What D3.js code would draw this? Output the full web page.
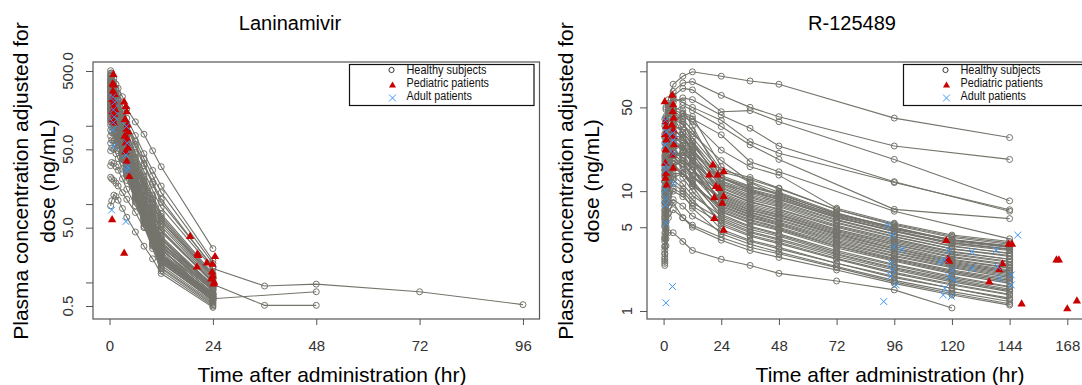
<!DOCTYPE html>
<html>
<head>
<meta charset="utf-8">
<script src="https://cdn.jsdelivr.net/npm/d3@7"></script>
<style>
  body { margin: 0; background: #fff; }
  svg { display: block; font-family: "Liberation Sans", Arial, Helvetica, sans-serif; }
</style>
</head>
<body>
<svg id="chart" width="1082" height="385"></svg>
<script>
// ---------------- Laninamivir (left panel) ----------------
const lanTimes = [0.25, 0.5, 1, 1.5, 2, 3, 4, 6, 8, 10, 12, 24, 36, 48, 72, 96];
const lanXTicks = [0, 24, 48, 72, 96];
const lanYTicks = [0.5, 1, 5, 10, 50, 100, 500];
const lanYLabels = [0.5, 5, 50, 500];

// healthy subjects: one row per subject, aligned with lanTimes (null = not sampled)
const lanHealthy = [
  [505, 470, 400, 340, 300, 235, 165, 112, 78, 48, 30, 2.7],
  [430, 445, 360, 300, 255, 180, 125, 75, 44, 27, 17, 1.9],
  [470, 410, 330, 260, 215, 150, 100, 58, 33, 19, 11.5, 1.55],
  [390, 380, 310, 245, 195, 128, 86, 45, 26, 15, 9.0, 1.5, 0.9, 0.95, 0.76, 0.52],
  [360, 340, 285, 230, 185, 118, 74, 40, 21, 12, 7.0, 1.25],
  [330, 315, 255, 205, 165, 104, 66, 34, 19, 10.5, 6.0, 1.15],
  [300, 295, 240, 188, 150, 96, 60, 31, 16.5, 9.0, 5.2, 1.05],
  [285, 268, 226, 176, 138, 88, 56, 28, 15, 8.0, 4.6, 0.98],
  [345, 280, 205, 160, 128, 82, 50, 24, 12.5, 6.6, 3.6, 0.88],
  [250, 262, 215, 172, 134, 84, 52, 26, 13.5, 7.2, 3.9, 0.92],
  [238, 232, 188, 150, 118, 74, 46, 22, 11.2, 6.0, 3.3, 0.84],
  [275, 240, 176, 136, 106, 66, 41, 20, 10, 5.3, 2.9, 0.78],
  [215, 222, 180, 141, 112, 70, 43, 21, 10.6, 5.7, 3.1, 0.95, 0.51, 0.51],
  [228, 205, 162, 125, 98, 61, 38, 18, 9.0, 4.8, 2.6, 0.74],
  [196, 205, 170, 132, 104, 65, 40, 19.5, 9.8, 5.1, 2.75, 0.62, null, 0.76],
  [205, 190, 150, 118, 92, 57, 35, 16.5, 8.2, 4.3, 2.3, 0.7],
  [182, 178, 148, 114, 88, 54, 33, 15.5, 7.7, 4.0, 2.15, 0.67],
  [168, 172, 138, 106, 83, 51, 31, 14.2, 7.0, 3.6, 1.95, 0.64],
  [190, 160, 126, 98, 76, 47, 29, 13.5, 6.6, 3.4, 1.8, 0.6],
  [150, 158, 130, 101, 79, 48, 29.5, 13.8, 6.8, 3.5, 1.85, 0.58],
  [142, 146, 118, 92, 71, 44, 27, 12.5, 6.1, 3.1, 1.65, 0.56],
  [128, 135, 112, 88, 68, 42, 26, 12, 5.8, 3.0, 1.55, 0.54],
  [118, 122, 104, 82, 64, 40, 25, 11.5, 5.6, 2.9, 1.5, 0.52],
  [160, 130, 98, 76, 60, 37, 23, 10.6, 5.2, 2.7, 1.4, 0.5],
  [102, 110, 96, 78, 62, 39, 24.5, 11.8, 6.0, 3.2, 1.75, 0.6],
  [88, 96, 90, 74, 60, 38, 24, 12.5, 6.6, 3.6, 2.0, 0.66],
  [74, 82, 80, 68, 56, 37, 24, 13, 7.2, 4.0, 2.3, 0.72],
  [60, 66, 64, 56, 48, 34, 23, 13.5, 7.8, 4.5, 2.6, 0.8],
  [48, 52, 50, 44, 38, 28, 20, 12, 7.5, 4.6, 2.8, 0.85],
  [31, 34, 33, 30, 27, 21, 15.5, 9.5, 6.4, 3.8, 2.2, 0.7],
  [22, 21, 20, 18.5, 17, 14, 11.5, 7.8, 5.0, 3.2, 2.0, 0.64],
  [9.5, 11, 13, 12.5, 11.2, 8.8, 6.8, 4.4, 2.9, 2.0, 1.3, 0.48],
  [400, 365, 295, 240, 190, 125, 82, 43, 23, 13, 7.5, 1.3],
  [265, 250, 200, 150, 114, 70, 44, 21.5, 10.8, 5.6, 3.0, 0.82],
  [320, 300, 230, 180, 142, 90, 57, 30, 17.5, 10, 6.2, 1.2],
  [180, 195, 165, 128, 102, 66, 43, 23, 13, 7.6, 4.4, 1.0],
  [355, 330, 262, 212, 170, 110, 70, 37, 20, 11.5, 6.6, 1.2],
  [312, 288, 232, 182, 146, 93, 58, 29, 15.5, 8.4, 4.7, 1.02],
  [296, 300, 248, 196, 158, 100, 64, 33, 18, 9.8, 5.6, 1.1],
  [272, 258, 210, 166, 130, 82, 51, 25, 12.8, 6.8, 3.7, 0.9],
  [246, 236, 194, 154, 122, 78, 49, 24, 12.2, 6.5, 3.5, 0.86],
  [222, 228, 186, 146, 115, 72, 45, 22, 11.0, 5.9, 3.2, 0.8],
  [210, 200, 168, 130, 101, 63, 39, 18.5, 9.3, 4.9, 2.65, 0.73],
  [188, 186, 152, 119, 93, 58, 36, 17, 8.6, 4.5, 2.45, 0.69],
  [176, 168, 136, 104, 81, 50, 31, 14.8, 7.4, 3.9, 2.1, 0.66],
  [164, 154, 124, 96, 75, 46, 28.5, 13.5, 6.8, 3.6, 1.9, 0.62],
  [156, 150, 122, 95, 74, 46, 29, 14.5, 7.6, 4.1, 2.25, 0.7],
  [136, 140, 116, 91, 71, 45, 28, 13.8, 7.0, 3.8, 2.1, 0.66],
  [124, 128, 108, 86, 67, 43, 27, 13.2, 6.8, 3.7, 2.05, 0.63],
  [112, 116, 100, 80, 63, 40, 25.5, 12.4, 6.4, 3.5, 1.95, 0.6],
  [380, 350, 300, 250, 205, 140, 96, 54, 31, 18, 10.5, 1.6],
  [440, 400, 320, 265, 220, 155, 108, 64, 38, 23, 14, 1.75]
];

// patients: [time (hr), concentration]
const lanPediatric = [
  [0.9, 450], [0.7, 340], [1.0, 330], [0.8, 275], [1.2, 250], [0.6, 215], [1.0, 200],
  [0.9, 180], [1.3, 160], [0.7, 150], [1.1, 140], [0.8, 120], [1.0, 108], [0.6, 6.3],
  [3.4, 200], [3.8, 175], [4.0, 150], [3.6, 120], [4.2, 102], [3.9, 90], [4.4, 83],
  [3.5, 73], [4.1, 68], [3.8, 60], [4.3, 52], [3.7, 46.5], [4.0, 35], [4.6, 22.5], [3.4, 2.35],
  [18.7, 3.85], [20.4, 2.3], [20.6, 2.2], [20.3, 1.57], [22.6, 1.77], [23.6, 1.1],
  [23.9, 1.7], [24.0, 1.2], [24.3, 1.0], [24.5, 2.13], [23.8, 1.35], [24.2, 0.95]
];
const lanAdult = [
  [0.7, 233], [0.9, 160], [1.1, 130], [0.8, 89], [1.0, 54.6], [0.5, 8.4], [1.2, 200], [0.9, 110],
  [3.9, 98], [4.1, 60], [3.8, 42.5], [4.2, 30], [4.0, 27], [3.8, 6.0]
];

// ---------------- R-125489 (right panel) ----------------
const rTimes = [0.5, 1, 2, 4, 8, 12, 24, 36, 48, 72, 96, 120, 144];
const rXTicks = [0, 24, 48, 72, 96, 120, 144, 168];
const rYTicks = [1, 5, 10, 50, 100];
const rYLabels = [1, 5, 10, 50];

const rHealthy = [
  [30, 42, 58, 78, 91, 99, 91, 83, 78, null, 40.7, null, 28],
  [22, 35, 50, 68, 80, 82, 63, 50, 41.8, null, 23.8, null, 18.4],
  [18, 28, 45, 62, 72, 70, 46, 47, 38, null, 18.4, null, 8.3],
  [15, 26, 40, 55, 60, 58, 43, 33.5, 23.8, null, 12, null, 6.8],
  [25, 38, 52, 60, 55, 50, 39, 25.9, 20.7, null, 11.8, null, 7.0],
  [12, 20, 32, 46, 52, 47, 34.6, 24.3, 18.4, null, 7.05, null, 5.9],
  [20, 30, 42, 48, 44, 40, 29.5, 17.6, 14.5, null, 6.8, null, 4.0],
  [10, 18, 28, 40, 42, 38, 22, 16, 13.6, 7.2, 5.4, 4.3, 3.8],
  [14, 24, 34, 40, 36, 28, 14.5, 12.5, 10.5, 7.0, 5.2, 4.1, 3.6],
  [8, 15, 26, 35, 33, 26, 13.5, 11, 9.6, 6.4, 5.0, 3.8, 3.4],
  [16, 28, 38, 42, 30, 22, 12.8, 10.2, 8.8, 6.1, 4.6, 3.6, 3.2],
  [6.5, 12, 20, 30, 31, 25, 12, 9.6, 8.2, 5.8, 4.4, 3.5, 3.0],
  [11, 20, 30, 34, 27, 20, 11.2, 9.0, 7.8, 5.5, 4.2, 3.3, 2.85],
  [5, 9, 16, 26, 28, 23, 10.6, 8.5, 7.4, 5.2, 4.0, 3.15, 2.7],
  [13, 22, 29, 31, 24, 18, 10, 8.1, 7.0, 5.0, 3.8, 3.0, 2.6],
  [9, 16, 24, 28, 25, 19, 9.4, 7.6, 6.6, 4.7, 3.6, 2.85, 2.45],
  [4, 7.5, 14, 22, 24, 21, 9.0, 7.2, 6.3, 4.5, 3.45, 2.7, 2.3],
  [17, 26, 30, 27, 21, 15, 8.6, 6.9, 6.0, 4.3, 3.3, 2.6, 2.2],
  [7, 13, 21, 25, 22, 17, 8.2, 6.6, 5.7, 4.1, 3.15, 2.5, 2.1],
  [3.2, 6, 12, 19, 21, 18, 7.8, 6.3, 5.4, 3.9, 3.0, 2.4, 2.0],
  [10, 17, 23, 23, 18, 13.5, 7.4, 6.0, 5.2, 3.7, 2.85, 2.3, 1.9],
  [6, 11, 18, 21, 19, 15, 7.0, 5.7, 4.9, 3.5, 2.7, 2.15, 1.8],
  [2.4, 4.5, 9, 16, 18, 16, 6.7, 5.4, 4.7, 3.35, 2.6, 2.05, 1.7],
  [12, 19, 22, 20, 15, 11.5, 6.4, 5.1, 4.4, 3.2, 2.45, 1.95, 1.6],
  [5.5, 10, 16, 18, 16, 12.5, 6.0, 4.8, 4.2, 3.0, 2.3, 1.85, 1.52],
  [8.5, 14, 18, 17, 13, 10, 5.6, 4.5, 3.9, 2.85, 2.2, 1.75, 1.45],
  [3.5, 6.5, 11, 14, 14, 11, 5.2, 4.2, 3.65, 2.7, 2.05, 1.65, 1.36],
  [4.5, 8, 12, 12.5, 10.5, 8.5, 4.8, 3.9, 3.4, 2.5, 1.9, 1.55, 1.28],
  [2.8, 5, 8.5, 10.5, 9.5, 7.2, 4.4, 3.6, 3.1, 2.35, 1.8, 1.45, 1.2],
  [3.0, 4.5, 6.5, 8, 6.0, 5.0, 3.9, 3.2, 2.8, 2.2, 1.7, 1.36, 1.12],
  [2.6, 3.5, 4.5, 4.5, 3.8, 3.2, 2.7, 2.4, 2.06, 1.78, 1.5, 1.06, null],
  [40, 50, 54, 48, 40, 32, 15, 13, 10.6, 7.0, 5.3, 4.2, 3.7],
  [28, 40, 45, 44, 36, 30, 18, 12, 9.8, 6.6, 4.9, 3.9, 3.5],
  [35, 48, 52, 46, 38, 26, 11.5, 9.8, 8.5, 6.0, 4.7, 3.7, 3.3],
  [9, 14, 22, 36, 45, 42, 16, 11.8, 9.2, 6.2, 4.8, 3.9, 3.4],
  [19, 32, 44, 50, 47, 35, 13, 10.4, 9.0, 6.3, 4.9, 3.95, 3.5],
  [15, 25, 33, 36, 31, 24, 13, 10.8, 9.4, 6.5, 5.0, 3.9, 3.45],
  [12, 21, 30, 33, 28, 21, 12.2, 10, 8.6, 6.0, 4.6, 3.7, 3.25],
  [7.5, 14, 23, 29, 28, 22, 11.5, 9.3, 8.0, 5.7, 4.35, 3.45, 3.05],
  [10.5, 18, 25, 27, 23, 17.5, 10.8, 8.8, 7.6, 5.4, 4.15, 3.3, 2.9],
  [5.8, 11, 18, 24, 24, 19, 10.2, 8.2, 7.1, 5.1, 3.9, 3.1, 2.7],
  [13.5, 20, 24, 23, 19, 15, 9.7, 7.8, 6.8, 4.8, 3.7, 2.95, 2.55],
  [4.2, 8, 14, 20, 21, 17.5, 9.2, 7.4, 6.4, 4.6, 3.55, 2.8, 2.4],
  [9.5, 15, 20, 21, 17, 13, 8.8, 7.0, 6.1, 4.4, 3.35, 2.65, 2.28],
  [6.8, 12, 17, 19, 17, 13.5, 8.4, 6.7, 5.8, 4.2, 3.2, 2.55, 2.15],
  [3.8, 7, 12, 17, 18, 15, 8.0, 6.4, 5.5, 4.0, 3.05, 2.45, 2.05],
  [8, 13, 17, 17, 14, 11, 7.6, 6.1, 5.3, 3.8, 2.9, 2.35, 1.95],
  [5.2, 9.5, 14, 15.5, 14, 11.5, 7.2, 5.8, 5.0, 3.6, 2.75, 2.2, 1.85],
  [3.0, 5.5, 9.5, 13, 14, 12, 6.8, 5.5, 4.8, 3.45, 2.65, 2.1, 1.75],
  [6.2, 10, 13, 13.5, 11.5, 9.2, 6.2, 5.0, 4.3, 3.1, 2.4, 1.9, 1.58],
  [4.0, 7, 10, 11.5, 10, 8.0, 5.8, 4.6, 4.0, 2.95, 2.25, 1.8, 1.48],
  [2.7, 4.8, 8, 10, 9.0, 7.5, 5.4, 4.3, 3.75, 2.75, 2.1, 1.68, 1.38],
  [3.4, 5.5, 7.5, 8.5, 7.5, 6.2, 4.6, 3.8, 3.3, 2.5, 1.95, 1.55, 1.25],
  [2.5, 4.0, 6.0, 7.0, 6.0, 5.2, 4.1, 3.4, 3.0, 2.3, 1.75, 1.4, 1.15]
];

const rPediatric = [
  [0.5, 55.6], [0.8, 38], [1.0, 34.4], [0.6, 29.5], [1.2, 26.7], [0.9, 22], [0.7, 17.1],
  [1.1, 14.1], [0.8, 12.8], [1.3, 11.2],
  [3.6, 63], [4.0, 52.5], [3.8, 46], [4.2, 40.5], [3.5, 35.6], [4.1, 32.3], [3.9, 28.5],
  [4.3, 24.3], [3.7, 20], [4.0, 15.5],
  [20.5, 16.5], [19.0, 13.6], [25.0, 14.5], [22.5, 13.6], [21.8, 10.9], [23.2, 10.5],
  [25.0, 9.0], [21.1, 8.8], [24.4, 7.9], [21.1, 5.9], [25.0, 4.7],
  [117.6, 3.86], [118.3, 2.7], [118.8, 2.6], [135.5, 1.74], [139.7, 2.2], [141, 2.47],
  [143.6, 3.6], [145, 3.6], [149, 1.14], [163.5, 2.66], [164.5, 2.66], [168, 1.04], [172, 1.21]
];
const rAdult = [
  [0.8, 39], [1.0, 31.3], [0.6, 24.3], [1.2, 16.5], [0.9, 15], [0.7, 10.2], [1.1, 8.7],
  [0.8, 7.7], [1.0, 5.4], [1.0, 1.17],
  [3.8, 30.4], [4.0, 26.7], [3.9, 20.6], [4.1, 11.6], [3.7, 1.6],
  [93.2, 5.2], [95, 4.3], [95.8, 3.44], [99.2, 3.27], [94.8, 2.5], [95.2, 2.2], [94.5, 1.96],
  [96.8, 1.65], [91.6, 1.2],
  [114.9, 2.58], [117, 2.66], [118.8, 3.18], [118.8, 1.93], [120.2, 2.2], [121, 1.81],
  [117, 1.55], [116.4, 1.36], [119.8, 1.32],
  [128.3, 3.13], [128.3, 2.27],
  [138.4, 3.23], [139, 2.34], [139.7, 1.87], [144.7, 2.0], [144.7, 1.65], [147.4, 4.3]
];

const legendLabels = ["Healthy subjects", "Pediatric patients", "Adult patients"];

// ---------------- styling ----------------
const GRAY = "#74746c";
const RED = "#c80000";
const BLUE = "#3a96f5";
const svg = d3.select("#chart");

const crossPath = "M-3.4,-3.4L3.4,3.4M-3.4,3.4L3.4,-3.4";
const triPath = d3.symbol(d3.symbolTriangle, 30)();

function drawPanel(cfg) {
  const g = svg.append("g");
  const x = d3.scaleLinear().domain(cfg.xDomain).range([cfg.box.left, cfg.box.right]);
  const y = d3.scaleLog().domain(cfg.yDomain).range(cfg.yRange);

  // healthy subject profiles
  const line = d3.line().x(d => x(d[0])).y(d => y(d[1]));
  const profiles = cfg.healthy.map(row =>
    row.map((v, i) => [cfg.times[i], v]).filter(d => d[1] != null));

  g.append("g").selectAll("path").data(profiles).join("path")
    .attr("d", line).attr("fill", "none")
    .attr("stroke", GRAY).attr("stroke-width", 1.1);
  g.append("g").selectAll("circle").data(profiles.flat()).join("circle")
    .attr("cx", d => x(d[0])).attr("cy", d => y(d[1])).attr("r", 3)
    .attr("fill", "none").attr("stroke", GRAY).attr("stroke-width", 1);

  // pediatric patients
  g.append("g").selectAll("path").data(cfg.pediatric).join("path")
    .attr("d", triPath)
    .attr("transform", d => `translate(${x(d[0])},${y(d[1])})`)
    .attr("fill", RED);

  // adult patients
  g.append("g").selectAll("path").data(cfg.adult).join("path")
    .attr("d", crossPath)
    .attr("transform", d => `translate(${x(d[0])},${y(d[1])})`)
    .attr("fill", "none").attr("stroke", BLUE).attr("stroke-width", 1);

  // frame
  g.append("rect")
    .attr("x", cfg.box.left).attr("y", cfg.box.top)
    .attr("width", cfg.box.right - cfg.box.left).attr("height", cfg.box.bottom - cfg.box.top)
    .attr("fill", "none").attr("stroke", "#555").attr("stroke-width", 1.2);

  // x axis
  const xa = g.append("g").attr("transform", `translate(0,${cfg.box.bottom})`)
    .call(d3.axisBottom(x).tickValues(cfg.xTicks).tickSize(6).tickPadding(15));
  xa.select(".domain").remove();
  xa.selectAll(".tick line").attr("stroke", "#555");
  xa.selectAll(".tick text").attr("font-size", 15).attr("fill", "#333")
    .attr("font-family", "Liberation Sans, Arial, sans-serif");

  // y axis (ticks) and rotated labels
  const ya = g.append("g").attr("transform", `translate(${cfg.box.left},0)`)
    .call(d3.axisLeft(y).tickValues(cfg.yTicks).tickSize(7).tickFormat(""));
  ya.select(".domain").remove();
  ya.selectAll(".tick line").attr("stroke", "#555");

  g.append("g").selectAll("text").data(cfg.yLabels).join("text")
    .attr("transform", d => `translate(${cfg.yLabelX},${y(d)}) rotate(-90)`)
    .attr("text-anchor", "middle").attr("font-size", 15).attr("fill", "#333")
    .text(cfg.yFormat);

  // titles and axis labels
  g.append("text").attr("x", cfg.titleX).attr("y", 30)
    .attr("text-anchor", "middle").attr("font-size", 20).text(cfg.title);
  g.append("text").attr("x", cfg.xLabelX).attr("y", 382)
    .attr("text-anchor", "middle").attr("font-size", 21).text("Time after administration (hr)");
  const yl = g.append("g").attr("text-anchor", "middle").attr("font-size", 21);
  yl.append("text").attr("transform", `translate(${cfg.yTitleX},181) rotate(-90)`)
    .text("Plasma concentration adjusted for");
  yl.append("text").attr("transform", `translate(${cfg.yTitleX + 26.5},181) rotate(-90)`)
    .text("dose (ng/mL)");

  // legend
  const lg = g.append("g");
  lg.append("rect").attr("x", cfg.legend.x).attr("y", 64.5)
    .attr("width", cfg.legend.w).attr("height", 41)
    .attr("fill", "#fff").attr("stroke", "#111").attr("stroke-width", 1.2);
  const sx = cfg.legend.x + 42;
  lg.append("circle").attr("cx", sx).attr("cy", 70).attr("r", 2.6)
    .attr("fill", "none").attr("stroke", "#222").attr("stroke-width", 0.9);
  lg.append("path").attr("d", d3.symbol(d3.symbolTriangle, 22)())
    .attr("transform", `translate(${sx + 1},${85.5})`).attr("fill", RED);
  lg.append("path").attr("d", crossPath)
    .attr("transform", `translate(${sx + 1},${98})`)
    .attr("fill", "none").attr("stroke", BLUE).attr("stroke-width", 1);
  const lens = [80, 82.5, 65.5];
  lg.selectAll("text.lab").data(legendLabels).join("text").attr("class", "lab")
    .attr("x", sx + 15).attr("y", (d, i) => [73.5, 86.8, 99.8][i])
    .attr("font-size", 12.5).attr("fill", "#111")
    .attr("textLength", (d, i) => lens[i]).attr("lengthAdjust", "spacingAndGlyphs")
    .text(d => d);
}

drawPanel({
  title: "Laninamivir", titleX: 290, xLabelX: 332, yTitleX: 28,
  box: { left: 93, right: 539.5, top: 62, bottom: 319 },
  xDomain: [-3.84, 99.84], yDomain: [0.5, 500], yRange: [306, 71],
  times: lanTimes, healthy: lanHealthy, pediatric: lanPediatric, adult: lanAdult,
  xTicks: lanXTicks, yTicks: lanYTicks, yLabels: lanYLabels, yLabelX: 73,
  yFormat: d3.format(".1f"),
  legend: { x: 349.5, w: 184.5 }
});

drawPanel({
  title: "R-125489", titleX: 852, xLabelX: 890, yTitleX: 572.5,
  box: { left: 647, right: 1093, top: 62, bottom: 319 },
  xDomain: [-6.9, 178.7], yDomain: [1, 100], yRange: [311, 71.3],
  times: rTimes, healthy: rHealthy, pediatric: rPediatric, adult: rAdult,
  xTicks: rXTicks, yTicks: rYTicks, yLabels: rYLabels, yLabelX: 632,
  yFormat: d3.format("d"),
  legend: { x: 903.5, w: 190 }
});
</script>
</body>
</html>
